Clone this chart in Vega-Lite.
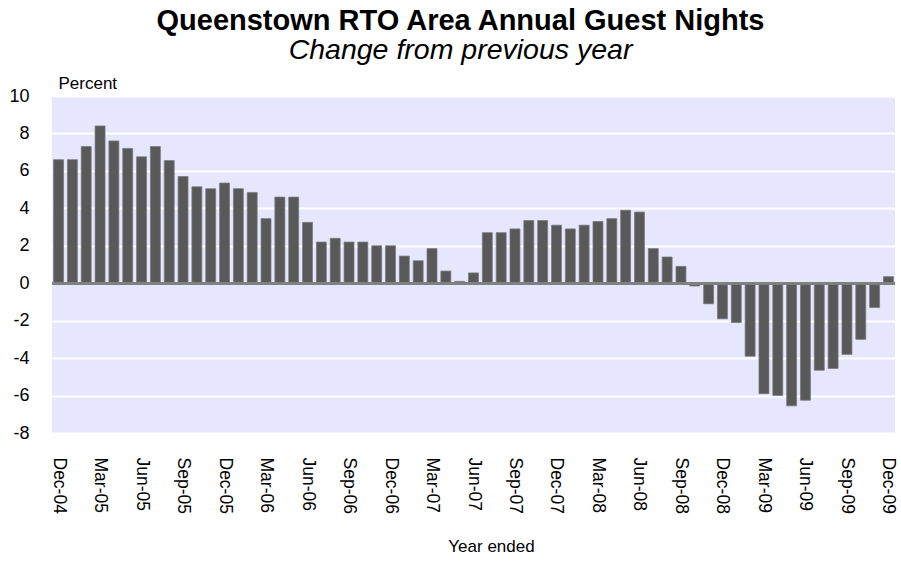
{
  "$schema": "https://vega.github.io/schema/vega-lite/v6.json",
  "width": 843,
  "height": 337,
  "autosize": {"type": "none"},
  "padding": {"left": 52, "top": 96, "right": 6, "bottom": 132},
  "background": "white",
  "config": {
    "font": "Liberation Sans",
    "view": {"fill": "#E6E6FF", "stroke": null}
  },
  "title": {
    "text": "Queenstown RTO Area Annual Guest Nights",
    "subtitle": "Change from previous year",
    "fontSize": 29,
    "fontWeight": "bold",
    "color": "black",
    "subtitleFontSize": 28.5,
    "subtitleFontStyle": "italic",
    "subtitleColor": "black",
    "anchor": "middle",
    "dx": -13,
    "offset": 10,
    "subtitlePadding": 0
  },
  "data": {
    "values": [
      {"month": "Dec-04", "change": 6.6},
      {"month": "Jan-05", "change": 6.6},
      {"month": "Feb-05", "change": 7.3},
      {"month": "Mar-05", "change": 8.4},
      {"month": "Apr-05", "change": 7.6},
      {"month": "May-05", "change": 7.2},
      {"month": "Jun-05", "change": 6.75},
      {"month": "Jul-05", "change": 7.3},
      {"month": "Aug-05", "change": 6.55},
      {"month": "Sep-05", "change": 5.7},
      {"month": "Oct-05", "change": 5.15},
      {"month": "Nov-05", "change": 5.05},
      {"month": "Dec-05", "change": 5.35},
      {"month": "Jan-06", "change": 5.05},
      {"month": "Feb-06", "change": 4.85},
      {"month": "Mar-06", "change": 3.45},
      {"month": "Apr-06", "change": 4.6},
      {"month": "May-06", "change": 4.6},
      {"month": "Jun-06", "change": 3.25},
      {"month": "Jul-06", "change": 2.2},
      {"month": "Aug-06", "change": 2.4},
      {"month": "Sep-06", "change": 2.2},
      {"month": "Oct-06", "change": 2.2},
      {"month": "Nov-06", "change": 2.0},
      {"month": "Dec-06", "change": 2.0},
      {"month": "Jan-07", "change": 1.45},
      {"month": "Feb-07", "change": 1.2},
      {"month": "Mar-07", "change": 1.85},
      {"month": "Apr-07", "change": 0.65},
      {"month": "May-07", "change": 0.1},
      {"month": "Jun-07", "change": 0.55},
      {"month": "Jul-07", "change": 2.7},
      {"month": "Aug-07", "change": 2.7},
      {"month": "Sep-07", "change": 2.9},
      {"month": "Oct-07", "change": 3.35},
      {"month": "Nov-07", "change": 3.35},
      {"month": "Dec-07", "change": 3.1},
      {"month": "Jan-08", "change": 2.9},
      {"month": "Feb-08", "change": 3.1},
      {"month": "Mar-08", "change": 3.3},
      {"month": "Apr-08", "change": 3.45},
      {"month": "May-08", "change": 3.9},
      {"month": "Jun-08", "change": 3.8},
      {"month": "Jul-08", "change": 1.85},
      {"month": "Aug-08", "change": 1.4},
      {"month": "Sep-08", "change": 0.9},
      {"month": "Oct-08", "change": -0.15},
      {"month": "Nov-08", "change": -1.1},
      {"month": "Dec-08", "change": -1.9},
      {"month": "Jan-09", "change": -2.1},
      {"month": "Feb-09", "change": -3.9},
      {"month": "Mar-09", "change": -5.9},
      {"month": "Apr-09", "change": -6.0},
      {"month": "May-09", "change": -6.55},
      {"month": "Jun-09", "change": -6.25},
      {"month": "Jul-09", "change": -4.65},
      {"month": "Aug-09", "change": -4.55},
      {"month": "Sep-09", "change": -3.8},
      {"month": "Oct-09", "change": -3.0},
      {"month": "Nov-09", "change": -1.3},
      {"month": "Dec-09", "change": 0.35}
    ]
  },
  "layer": [
    {
      "mark": {"type": "bar", "fill": "#595959", "stroke": "#7a7a7a", "strokeWidth": 0.75},
      "encoding": {
        "x": {
          "field": "month",
          "type": "ordinal",
          "sort": null,
          "scale": {"paddingInner": 0.28, "paddingOuter": 0.115},
          "axis": {
            "values": ["Dec-04", "Mar-05", "Jun-05", "Sep-05", "Dec-05", "Mar-06", "Jun-06", "Sep-06", "Dec-06", "Mar-07", "Jun-07", "Sep-07", "Dec-07", "Mar-08", "Jun-08", "Sep-08", "Dec-08", "Mar-09", "Jun-09", "Sep-09", "Dec-09"],
            "labelAngle": 90,
            "labelAlign": "left",
            "labelBaseline": "middle",
            "labelFontSize": 17.5,
            "labelColor": "black",
            "labelPadding": 24,
            "labelOverlap": false,
            "ticks": false,
            "domain": false,
            "grid": false,
            "title": "Year ended",
            "titleFontSize": 17,
            "titleFontWeight": "normal",
            "titleColor": "black",
            "titleX": 439,
            "titleY": 118,
            "titleAlign": "center",
            "titleBaseline": "alphabetic"
          }
        },
        "y": {
          "field": "change",
          "type": "quantitative",
          "scale": {"domain": [-8, 10], "nice": false, "zero": false},
          "axis": {
            "values": [-8, -6, -4, -2, 0, 2, 4, 6, 8, 10],
            "tickCount": 10,
            "labelExpr": "'' + datum.value",
            "labelOverlap": false,
            "grid": true,
            "gridColor": "white",
            "gridWidth": 2,
            "gridOpacity": 1,
            "domain": false,
            "ticks": false,
            "labelFontSize": 18,
            "labelColor": "black",
            "labelPadding": 23,
            "title": "Percent",
            "titleAngle": 0,
            "titleAlign": "left",
            "titleBaseline": "alphabetic",
            "titleX": 6,
            "titleY": -8,
            "titleFontSize": 17,
            "titleFontWeight": "normal",
            "titleColor": "black"
          }
        }
      }
    },
    {
      "mark": {"type": "rule", "color": "#808080", "strokeWidth": 2},
      "encoding": {
        "y": {
          "datum": 0,
          "type": "quantitative",
          "axis": {
            "values": [-8, -6, -4, -2, 0, 2, 4, 6, 8, 10],
            "tickCount": 10,
            "labelExpr": "'' + datum.value",
            "labelOverlap": false,
            "grid": true,
            "gridColor": "white",
            "gridWidth": 2,
            "gridOpacity": 1,
            "domain": false,
            "ticks": false,
            "labelFontSize": 18,
            "labelColor": "black",
            "labelPadding": 23,
            "title": "Percent",
            "titleAngle": 0,
            "titleAlign": "left",
            "titleBaseline": "alphabetic",
            "titleX": 6,
            "titleY": -8,
            "titleFontSize": 17,
            "titleFontWeight": "normal",
            "titleColor": "black"
          }
        }
      }
    }
  ]
}
